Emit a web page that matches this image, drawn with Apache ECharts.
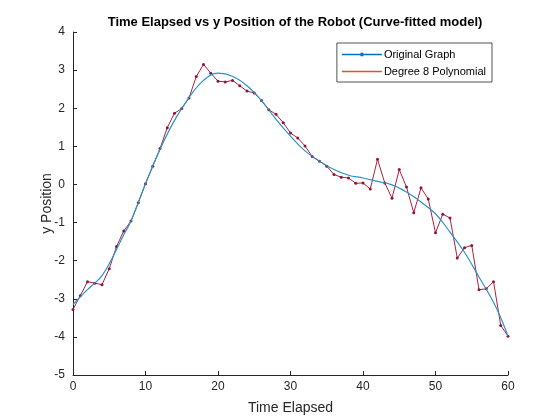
<!DOCTYPE html>
<html lang="en">
    <head>
        <meta charset="UTF-8">
        <title>ECharts</title>
        <style type="text/css">
            body {margin: 0px; background-color: #ffffff;}
        </style>
        <script src="https://cdn.jsdelivr.net/npm/echarts@6/dist/echarts.min.js"></script>
    </head>
    <body>
        <div id="main" style="height: 420px;width: 560px;"></div>
        <script type="text/javascript">
            // measured positions, one per second
            var timeElapsed = [0, 1, 2, 3, 4, 5, 6, 7, 8, 9, 10, 11, 12, 13, 14, 15, 16, 17, 18, 19, 20,
                21, 22, 23, 24, 25, 26, 27, 28, 29, 30, 31, 32, 33, 34, 35, 36, 37, 38, 39, 40,
                41, 42, 43, 44, 45, 46, 47, 48, 49, 50, 51, 52, 53, 54, 55, 56, 57, 58, 59, 60];
            var yPosition = [-3.28, -2.92, -2.55, -2.59, -2.63, -2.21, -1.63, -1.22, -0.96, -0.48, 0.02,
                0.48, 0.94, 1.49, 1.87, 1.99, 2.27, 2.83, 3.15, 2.92, 2.71,
                2.69, 2.73, 2.59, 2.45, 2.40, 2.20, 1.96, 1.84, 1.62, 1.35,
                1.22, 1.01, 0.73, 0.61, 0.48, 0.26, 0.19, 0.17, 0.03, 0.04,
                -0.12, 0.66, 0.04, -0.36, 0.39, -0.07, -0.74, -0.09, -0.38, -1.27,
                -0.78, -0.88, -1.93, -1.66, -1.60, -2.76, -2.74, -2.55, -3.70, -3.98];

            // fitted curve
            var fitTime = [0, 1, 2, 3, 4, 5, 6, 7, 8, 10, 12, 14, 16, 18, 20, 22, 24, 26, 28, 30,
                32, 34, 36, 38, 40, 42, 44, 46, 48, 50, 52, 54, 56, 58, 59, 60];
            var fitValue = [-3.15, -2.95, -2.76, -2.59, -2.39, -2.08, -1.71, -1.32, -0.96, 0.02, 0.92, 1.68, 2.28, 2.73, 2.92, 2.84, 2.59, 2.20, 1.71, 1.27,
                0.88, 0.61, 0.39, 0.24, 0.17, 0.08, -0.01, -0.20, -0.46, -0.77, -1.25, -1.78, -2.43, -3.09, -3.50, -3.98];

            var xTicks = [0, 10, 20, 30, 40, 50, 60];
            var yTicks = [-5, -4, -3, -2, -1, 0, 1, 2, 3, 4];

            function pairs(xs, ys) {
                var out = [];
                for (var i = 0; i < xs.length; i++) {
                    out.push([xs[i], ys[i]]);
                }
                return out;
            }

            // legend icons in a 40x6 box: thin line, a small dot on the first one.
            // the tiny corner specks only fix the box so both bars scale the same
            var corners = 'M0,0h0.05v0.05h-0.05z M39.95,5.95h0.05v0.05h-0.05z ';
            var lineDotIcon = 'path://' + corners + 'M0,2.3h18.5v-1h3v1h18.5v1.4h-18.5v1h-3v-1h-18.5z';
            var lineIcon = 'path://' + corners + 'M0,2.3h40v1.4h-40z';

            var textColor = '#262626';
            var myChart = echarts.init(document.getElementById('main'));
            var option = {
                backgroundColor: '#ffffff',
                animation: false,
                textStyle: {fontFamily: 'Liberation Sans, Arial, sans-serif'},
                title: {
                    text: 'Time Elapsed vs y Position of the Robot (Curve-fitted model)',
                    left: 290,
                    top: 11,
                    textAlign: 'center',
                    textStyle: {fontSize: 13, fontWeight: 'bold', color: '#000000', fontFamily: 'Liberation Sans, Arial, sans-serif'}
                },
                legend: {
                    right: 68,
                    top: 43,
                    orient: 'vertical',
                    itemWidth: 40,
                    itemHeight: 6,
                    itemGap: 6,
                    padding: [6, 6, 5, 5],
                    borderColor: '#262626',
                    borderWidth: 0.8,
                    backgroundColor: '#ffffff',
                    textStyle: {fontSize: 11, color: '#000000', padding: [0, 0, 0, -3]},
                    data: [
                        {
                            name: 'Original Graph', icon: lineDotIcon,
                            itemStyle: {color: '#0072BD', borderColor: '#0072BD', borderWidth: 0, opacity: 1}
                        },
                        {
                            name: 'Degree 8 Polynomial', icon: lineIcon,
                            itemStyle: {color: '#E0561A', borderColor: '#E0561A', borderWidth: 0, opacity: 1}
                        }
                    ]
                },
                grid: {left: 73, right: 52, top: 32, bottom: 45},
                xAxis: {
                    type: 'value',
                    min: xTicks[0],
                    max: xTicks[xTicks.length - 1],
                    interval: 10,
                    name: 'Time Elapsed',
                    nameLocation: 'middle',
                    nameGap: 26,
                    nameMoveOverlap: false,
                    nameTextStyle: {fontSize: 14, color: textColor},
                    axisLine: {onZero: false, lineStyle: {color: textColor, width: 1}},
                    axisTick: {inside: true, length: 4, lineStyle: {color: textColor}},
                    axisLabel: {fontSize: 12, color: textColor, margin: 6},
                    splitLine: {show: false}
                },
                yAxis: {
                    type: 'value',
                    min: yTicks[0],
                    max: yTicks[yTicks.length - 1],
                    interval: 1,
                    name: 'y Position',
                    nameLocation: 'middle',
                    nameGap: 19,
                    nameMoveOverlap: false,
                    nameTextStyle: {fontSize: 14, color: textColor},
                    axisLine: {show: true, onZero: false, lineStyle: {color: textColor, width: 1}},
                    axisTick: {show: true, inside: true, length: 4, lineStyle: {color: textColor}},
                    axisLabel: {fontSize: 12, color: textColor, margin: 8},
                    splitLine: {show: false}
                },
                series: [
                    {
                        name: 'Original Graph',
                        type: 'line',
                        data: pairs(timeElapsed, yPosition),
                        symbol: 'circle',
                        symbolSize: 3,
                        itemStyle: {color: '#8C1538'},
                        lineStyle: {color: '#B0203F', width: 1},
                        z: 2
                    },
                    {
                        name: 'Degree 8 Polynomial',
                        type: 'line',
                        data: pairs(fitTime, fitValue),
                        smooth: 0.4,
                        symbol: 'none',
                        itemStyle: {color: '#2A93C6'},
                        lineStyle: {color: '#2A93C6', width: 1.2},
                        z: 3
                    }
                ]
            };
            myChart.setOption(option);
        </script>
    </body>
</html>
